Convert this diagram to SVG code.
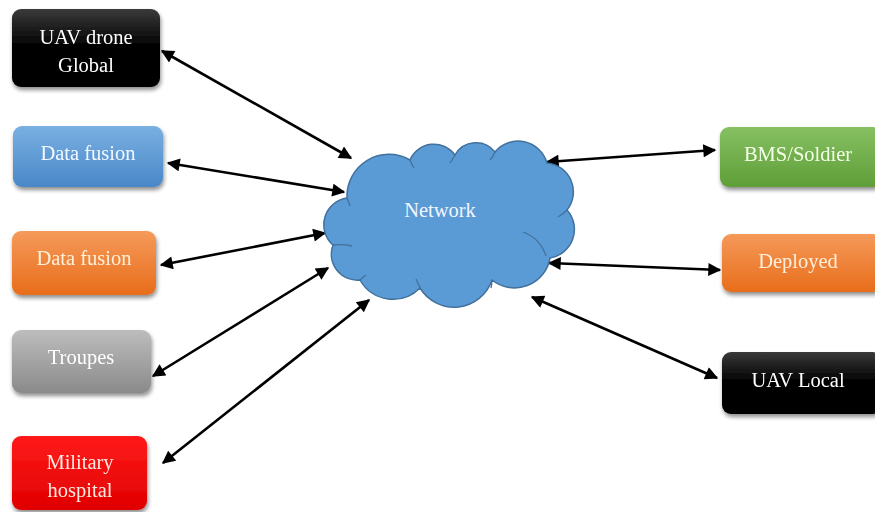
<svg xmlns="http://www.w3.org/2000/svg" width="875" height="512" viewBox="0 0 875 512">
<style>
.lbl{font-family:"Liberation Serif","DejaVu Serif",serif;font-size:20.5px;text-anchor:middle;}
.conn{stroke:#000;stroke-width:2.6;fill:none;marker-start:url(#ah);marker-end:url(#ah);}
.inner{fill:none;stroke:#41719C;stroke-width:1.3;}
</style>
<defs>
<marker id="ah" viewBox="0 0 10 10" refX="9" refY="5" markerWidth="5.5" markerHeight="5" markerUnits="strokeWidth" orient="auto-start-reverse">
<path d="M0,0 L10,5 L0,10 Z" fill="#000"/>
</marker>
<filter id="sh" x="-10%" y="-10%" width="125%" height="130%">
<feGaussianBlur in="SourceAlpha" stdDeviation="2"/>
<feOffset dx="1" dy="3" result="b"/>
<feComponentTransfer><feFuncA type="linear" slope="0.45"/></feComponentTransfer>
<feMerge><feMergeNode/><feMergeNode in="SourceGraphic"/></feMerge>
</filter>
<linearGradient id="gBlack" x1="0" y1="0" x2="0" y2="1"><stop offset="0" stop-color="#3a3a3a"/><stop offset="0.45" stop-color="#050505"/><stop offset="1" stop-color="#000"/></linearGradient>
<linearGradient id="gBlue" x1="0" y1="0" x2="0" y2="1"><stop offset="0" stop-color="#79B0E2"/><stop offset="1" stop-color="#4A87C8"/></linearGradient>
<linearGradient id="gOrange" x1="0" y1="0" x2="0" y2="1"><stop offset="0" stop-color="#F59A5A"/><stop offset="1" stop-color="#E86D1A"/></linearGradient>
<linearGradient id="gGray" x1="0" y1="0" x2="0" y2="1"><stop offset="0" stop-color="#BDBDBD"/><stop offset="1" stop-color="#8A8A8A"/></linearGradient>
<linearGradient id="gRed" x1="0" y1="0" x2="0" y2="1"><stop offset="0" stop-color="#FF1A1A"/><stop offset="1" stop-color="#E00000"/></linearGradient>
<linearGradient id="gGreen" x1="0" y1="0" x2="0" y2="1"><stop offset="0" stop-color="#86C062"/><stop offset="1" stop-color="#5F9E38"/></linearGradient>
</defs>
<rect width="875" height="512" fill="#fff"/>

<g id="connectors">
<line class="conn" x1="162" y1="51" x2="351" y2="158"/>
<line class="conn" x1="168" y1="163" x2="344" y2="192"/>
<line class="conn" x1="161" y1="265" x2="325" y2="233"/>
<line class="conn" x1="153" y1="376" x2="328" y2="268"/>
<line class="conn" x1="163" y1="463" x2="369" y2="300"/>
<line class="conn" x1="547" y1="162" x2="715" y2="150"/>
<line class="conn" x1="549" y1="263" x2="720" y2="270"/>
<line class="conn" x1="532" y1="297" x2="717" y2="378"/>
</g>

<g id="network">
<path d="M333 245 A27 27 0 0 1 347 198 A42 42 0 0 1 410 160 A26 26 0 0 1 455 155 A24 24 0 0 1 495 152 A30 30 0 0 1 547 163 A29 29 0 0 1 567 210 A29 29 0 0 1 550 258 A36 36 0 0 1 492 280 A40 40 0 0 1 420 288 A38 38 0 0 1 360 280 A26 26 0 0 1 333 245 Z" fill="#5B9BD5" stroke="#41719C" stroke-width="1.5"/>
<path class="inner" d="M333 245 Q343 244 352 246"/>
<path class="inner" d="M347 198 Q349 203 350 206"/>
<path class="inner" d="M410 160 Q412 165 414 168"/>
<path class="inner" d="M455 155 Q452 160 450 163"/>
<path class="inner" d="M495 152 Q493 157 490 160"/>
<path class="inner" d="M567 210 Q563 214 558 217"/>
<path class="inner" d="M523 232 Q540 238 546 256"/>
<path class="inner" d="M492 280 Q492 284 491 288"/>
<path class="inner" d="M420 288 Q418 283 416 279"/>
<path class="inner" d="M360 280 Q363 277 366 275"/>
<text class="lbl" x="440" y="217" fill="#F2F6FF">Network</text>
</g>

<g id="uav-global" filter="url(#sh)">
<rect x="12" y="9" width="148" height="78" rx="9" fill="url(#gBlack)"/>
<text class="lbl" x="86" y="44" fill="#fff">UAV drone</text>
<text class="lbl" x="86" y="72" fill="#fff">Global</text>
</g>
<g id="data-fusion-blue" filter="url(#sh)">
<rect x="13" y="126" width="150" height="61" rx="9" fill="url(#gBlue)"/>
<text class="lbl" x="88" y="160" fill="#F2F8FF">Data fusion</text>
</g>
<g id="data-fusion-orange" filter="url(#sh)">
<rect x="12" y="231" width="144" height="64" rx="9" fill="url(#gOrange)"/>
<text class="lbl" x="84" y="265" fill="#FFF0DC">Data fusion</text>
</g>
<g id="troupes" filter="url(#sh)">
<rect x="12" y="330" width="139" height="63" rx="9" fill="url(#gGray)"/>
<text class="lbl" x="81" y="364" fill="#fff">Troupes</text>
</g>
<g id="military-hospital" filter="url(#sh)">
<rect x="12" y="436" width="135" height="74" rx="9" fill="url(#gRed)"/>
<text class="lbl" x="80" y="469" fill="#FFE8E0">Military</text>
<text class="lbl" x="80" y="497" fill="#FFE8E0">hospital</text>
</g>
<g id="bms-soldier" filter="url(#sh)">
<rect x="720" y="127" width="162" height="60" rx="9" fill="url(#gGreen)"/>
<text class="lbl" x="798" y="161" fill="#F4FFE8">BMS/Soldier</text>
</g>
<g id="deployed" filter="url(#sh)">
<rect x="722" y="234" width="160" height="58" rx="9" fill="url(#gOrange)"/>
<text class="lbl" x="798" y="268" fill="#FFF0DC">Deployed</text>
</g>
<g id="uav-local" filter="url(#sh)">
<rect x="722" y="352" width="160" height="62" rx="9" fill="url(#gBlack)"/>
<text class="lbl" x="798" y="387" fill="#fff">UAV Local</text>
</g>
</svg>
